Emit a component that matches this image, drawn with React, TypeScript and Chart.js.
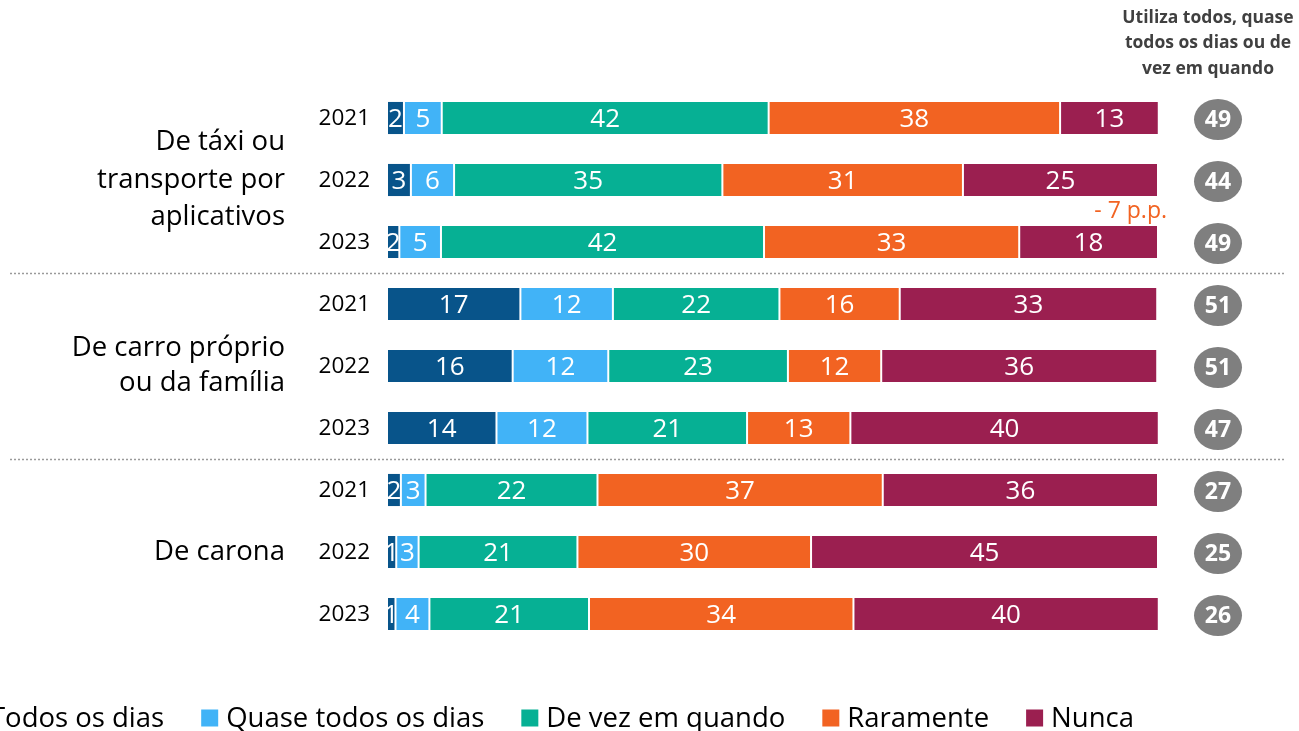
import React, { useEffect, useRef } from "react";
import { Chart, registerables } from "chart.js";

Chart.register(...registerables);

const rowKeys = ["taxi-2021", "taxi-2022", "taxi-2023", "carro-2021", "carro-2022", "carro-2023", "carona-2021", "carona-2022", "carona-2023"];
const yearLabels = ["2021", "2022", "2023", "2021", "2022", "2023", "2021", "2022", "2023"];
const groupLabels: string[][] = [
  ["De táxi ou", "transporte por", "aplicativos"],
  ["De carro próprio", "ou da família"],
  ["De carona"],
];
const groupCenterRows = [1, 4, 7];

const seriesNames = ["Todos os dias", "Quase todos os dias", "De vez em quando", "Raramente", "Nunca"];
const seriesColors = ["#08548A", "#41B3F7", "#06B094", "#F26322", "#9B1F50"];

const todos = [2.2, 3.1, 1.6, 17.3, 16.3, 14.2, 1.8, 1.2, 1.1];
const quase = [4.9, 5.6, 5.4, 12.0, 12.4, 11.8, 3.2, 2.9, 4.4];
const deVez = [42.4, 34.8, 41.9, 21.6, 23.3, 20.7, 22.3, 20.6, 20.7];
const raramente = [37.8, 31.2, 33.1, 15.6, 12.1, 13.4, 37.0, 30.3, 34.3];
const nunca = [12.8, 25.3, 18.0, 33.4, 35.8, 40.0, 35.7, 45.0, 39.6];

const totals = [49, 44, 49, 51, 51, 47, 27, 25, 26];
const headerLines = ["Utiliza todos, quase", "todos os dias ou de", "vez em quando"];
const changeNote = "- 7 p.p.";

const FONT = "'Open Sans', 'Noto Sans', sans-serif";

const overlayPlugin = {
  id: "overlay",
  afterDatasetsDraw(chart: any) {
    const ctx = chart.ctx;
    ctx.save();
    ctx.fillStyle = "#ffffff";
    ctx.font = `26px ${FONT}`;
    ctx.textAlign = "center";
    ctx.textBaseline = "middle";
    chart.data.datasets.forEach((ds: any, di: number) => {
      const meta = chart.getDatasetMeta(di);
      meta.data.forEach((bar: any, i: number) => {
        const v = ds.data[i];
        const label = String(Math.round(v));
        const cx = (bar.x + bar.base) / 2;
        ctx.fillText(label, cx, bar.y + 1.5);
      });
    });
    ctx.restore();
  },
  afterDraw(chart: any) {
    const ctx = chart.ctx;
    const yScale = chart.scales.y;
    const area = chart.chartArea;
    ctx.save();
    ctx.textBaseline = "middle";

    // year labels
    ctx.fillStyle = "#000000";
    ctx.font = `22.5px ${FONT}`;
    ctx.textAlign = "right";
    yearLabels.forEach((yl, i) => {
      ctx.fillText(yl, area.left - 17, yScale.getPixelForValue(i) + 1);
    });

    // group labels
    ctx.font = `27.5px ${FONT}`;
    groupLabels.forEach((lines, gi) => {
      const cy = yScale.getPixelForValue(groupCenterRows[gi]);
      const lh = gi === 0 ? 37.5 : 35;
      const start = cy - ((lines.length - 1) * lh) / 2;
      lines.forEach((ln, li) => {
        ctx.fillText(ln, 285, start + li * lh);
      });
    });

    // separators
    ctx.strokeStyle = "#9a9a9a";
    ctx.lineWidth = 1.5;
    ctx.setLineDash([2, 2]);
    [2.5, 5.5].forEach((v) => {
      const y = Math.round(yScale.getPixelForValue(v)) + 0.5;
      ctx.beginPath();
      ctx.moveTo(10, y);
      ctx.lineTo(1286, y);
      ctx.stroke();
    });
    ctx.setLineDash([]);

    // total bubbles
    totals.forEach((t, i) => {
      const cy = yScale.getPixelForValue(i) + 1.5;
      const cx = 1218;
      ctx.fillStyle = "#7F7F7F";
      ctx.beginPath();
      ctx.ellipse(cx, cy, 24, 20.5, 0, 0, Math.PI * 2);
      ctx.fill();
      ctx.fillStyle = "#ffffff";
      ctx.font = `bold 23px ${FONT}`;
      ctx.textAlign = "center";
      ctx.fillText(String(t), cx, cy + 1);
    });

    // header
    ctx.fillStyle = "#404040";
    ctx.font = `bold 17.5px ${FONT}`;
    ctx.textAlign = "center";
    headerLines.forEach((h, i) => {
      ctx.fillText(h, 1208, 18 + i * 25.5);
    });

    // change note
    ctx.fillStyle = "#F26322";
    ctx.font = `23px ${FONT}`;
    ctx.textAlign = "right";
    const noteY = (yScale.getPixelForValue(1) + yScale.getPixelForValue(2)) / 2;
    ctx.fillText(changeNote, area.right + 9, noteY);

    // legend
    ctx.font = `27.5px ${FONT}`;
    ctx.textAlign = "left";
    const sq = 17;
    const gapSqText = 8;
    const gapItems = 37;
    const widths = seriesNames.map((n) => sq + gapSqText + ctx.measureText(n).width);
    const total = widths.reduce((a, b) => a + b, 0) + gapItems * (seriesNames.length - 1);
    let x = 1134 - total;
    const ly = 718;
    seriesNames.forEach((n, i) => {
      ctx.fillStyle = seriesColors[i];
      ctx.fillRect(x, ly - sq / 2, sq, sq);
      ctx.fillStyle = "#000000";
      ctx.fillText(n, x + sq + gapSqText, ly + 1);
      x += widths[i] + gapItems;
    });

    ctx.restore();
  },
};

export default function App() {
  const canvasRef = useRef<HTMLCanvasElement | null>(null);

  useEffect(() => {
    document.body.style.margin = "0";
    const canvas = canvasRef.current;
    if (!canvas) return;
    const seriesData = [todos, quase, deVez, raramente, nunca];
    const chart = new Chart(canvas, {
      type: "bar",
      data: {
        labels: rowKeys,
        datasets: seriesNames.map((name, i) => ({
          label: name,
          data: seriesData[i],
          backgroundColor: seriesColors[i],
          borderColor: "rgba(255,255,255,0.45)",
          borderWidth: 1,
          borderSkipped: false,
          barPercentage: 0.55,
          categoryPercentage: 1,
        })),
      },
      options: {
        indexAxis: "y",
        responsive: false,
        animation: false,
        layout: { padding: { left: 387, right: 141, top: 87, bottom: 86 } },
        scales: {
          x: { stacked: true, min: 0, max: 100, display: false },
          y: { stacked: true, display: false },
        },
        plugins: {
          legend: { display: false },
          tooltip: { enabled: false },
        },
      },
      plugins: [overlayPlugin],
    } as any);
    return () => chart.destroy();
  }, []);

  return (
    <div style={{ position: "absolute", left: 0, top: 0, width: 1299, height: 731, background: "#fff" }}>
      <canvas ref={canvasRef} width={1299} height={731} />
    </div>
  );
}
